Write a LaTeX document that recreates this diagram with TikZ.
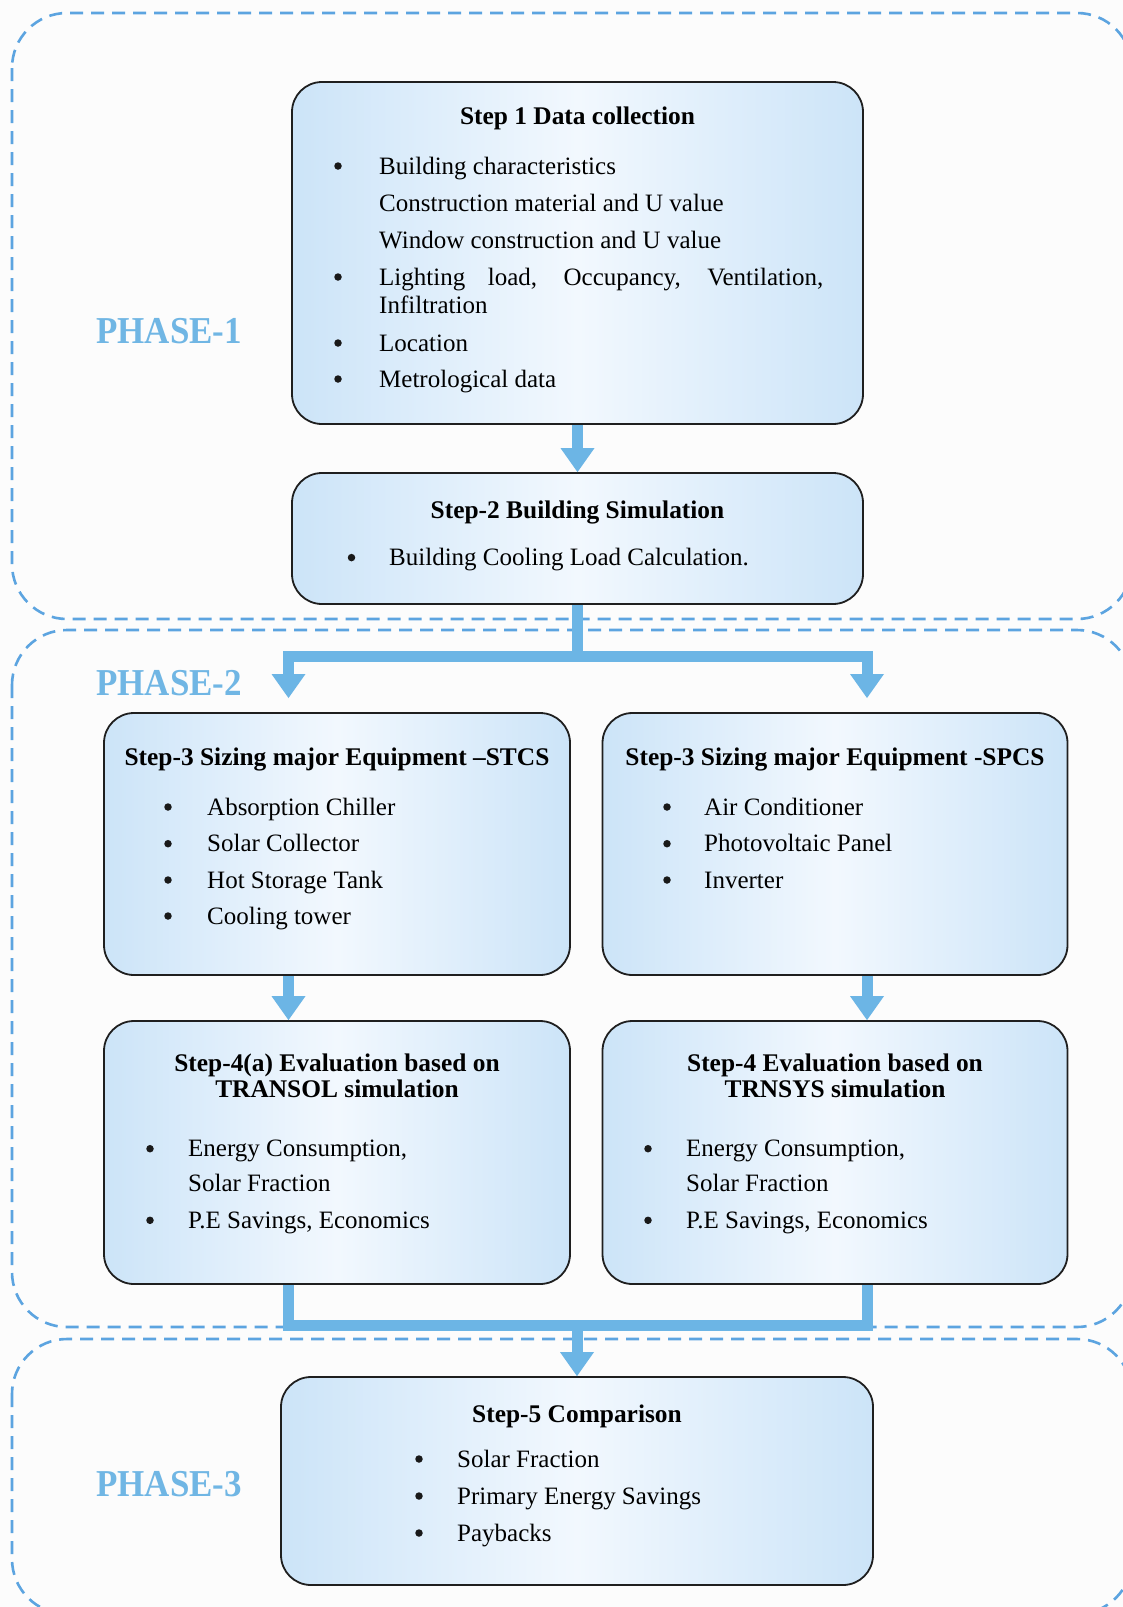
\documentclass[tikz,border=0pt]{standalone}
\usepackage{fontspec}
\setmainfont{Liberation Serif}
\usetikzlibrary{arrows.meta,calc}
\definecolor{arrowblue}{RGB}{108,181,229}
\definecolor{dashblue}{RGB}{92,164,224}
\definecolor{phaseblue}{RGB}{112,182,228}
\definecolor{boxout}{RGB}{204,228,248}
\definecolor{boxin}{RGB}{242,248,254}
\definecolor{bgcol}{RGB}{252,252,252}
\newcommand\bodyfnt{\fontsize{25}{30}\selectfont}
\newcommand\ttlfnt{\fontsize{25.4}{26}\selectfont\bfseries}
\newcommand\phfnt{\fontsize{38}{40}\selectfont\bfseries}
\begin{document}
\begin{tikzpicture}[x=1pt,y=-1pt,
  stepbox/.style={draw=black!88,line width=1.8pt,rounded corners=30pt,inner sep=0pt,left color=boxout,right color=boxout,middle color=boxin},
  phasebox/.style={draw=dashblue,line width=2.6pt,dash pattern=on 13pt off 8pt,rounded corners=55pt},
  phaselbl/.style={anchor=base west,inner sep=0pt,text=phaseblue,font=\phfnt},
  ttl/.style={anchor=base,inner sep=0pt,font=\ttlfnt},
  txt/.style={anchor=base west,inner sep=0pt,font=\bodyfnt},
  dot/.style={circle,fill=black!90,inner sep=0pt,minimum size=7.5pt,yshift=8pt},
  shaft/.style={draw=arrowblue,line width=11pt},
  arr/.style={draw=arrowblue,line width=11pt,-{Triangle[width=34pt,length=24pt,line width=0pt]}}
]
\useasboundingbox (0,0) rectangle (1123,1607);
\clip (0,0) rectangle (1123,1607);
\fill[bgcol] (0,0) rectangle (1123,1607);

% phase regions
\draw[phasebox] (12,13) rectangle (1132,619);
\draw[phasebox] (12,630) rectangle (1132,1327);
\draw[phasebox] (12,1339) rectangle (1132,1614);

\node[phaselbl] (ph1) at (96,343) {\scalebox{0.92}[1]{PHASE-1}};
\node[phaselbl] (ph2) at (96,695) {\scalebox{0.92}[1]{PHASE-2}};
\node[phaselbl] (ph3) at (96,1496) {\scalebox{0.92}[1]{PHASE-3}};

% boxes
\node[stepbox,minimum width=571pt,minimum height=342pt] (b1) at (577.5,253) {};
\node[stepbox,minimum width=571pt,minimum height=131pt] (b2) at (577.5,538.5) {};
\node[stepbox,minimum width=466pt,minimum height=262pt] (b3l) at (337,844) {};
\node[stepbox,minimum width=465pt,minimum height=262pt] (b3r) at (835,844) {};
\node[stepbox,minimum width=466pt,minimum height=263pt] (b4l) at (337,1152.5) {};
\node[stepbox,minimum width=465pt,minimum height=263pt] (b4r) at (835,1152.5) {};
\node[stepbox,minimum width=592pt,minimum height=208pt] (b5) at (577,1481) {};

% box 1 text
\node[ttl] (b1t) at (577.5,124.3) {Step 1 Data collection};
\node[dot] (b1d1) at (338,174) {};
\node[txt] (b1i1) at (379,174) {Building characteristics};
\node[txt] (b1i2) at (379,211) {Construction material and U value};
\node[txt] (b1i3) at (379,248) {Window construction and U value};
\node[dot] (b1d2) at (338,285) {};
\node[txt] (b1i4) at (379,285) {\makebox[444pt][s]{Lighting load, Occupancy, Ventilation,}};
\node[txt] (b1i5) at (379,313) {Infiltration};
\node[dot] (b1d3) at (338,351) {};
\node[txt] (b1i6) at (379,351) {Location};
\node[dot] (b1d4) at (338,387) {};
\node[txt] (b1i7) at (379,387) {Metrological data};

% box 2 text
\node[ttl] (b2t) at (577.5,518.5) {Step-2 Building Simulation};
\node[dot] (b2d1) at (351.5,565.6) {};
\node[txt] (b2i1) at (389,565.6) {Building Cooling Load Calculation.};

% box 3 left
\node[ttl] (b3lt) at (337,765) {Step-3 Sizing major Equipment –STCS};
\node[dot] (b3ld1) at (168,815) {};
\node[txt] (b3li1) at (207,815) {Absorption Chiller};
\node[dot] (b3ld2) at (168,851.7) {};
\node[txt] (b3li2) at (207,851.7) {Solar Collector};
\node[dot] (b3ld3) at (168,888) {};
\node[txt] (b3li3) at (207,888) {Hot Storage Tank};
\node[dot] (b3ld4) at (168,924) {};
\node[txt] (b3li4) at (207,924) {Cooling tower};

% box 3 right
\node[ttl] (b3rt) at (835,765) {Step-3 Sizing major Equipment -SPCS};
\node[dot] (b3rd1) at (667,815) {};
\node[txt] (b3ri1) at (704,815) {Air Conditioner};
\node[dot] (b3rd2) at (667,851.7) {};
\node[txt] (b3ri2) at (704,851.7) {Photovoltaic Panel};
\node[dot] (b3rd3) at (667,888) {};
\node[txt] (b3ri3) at (704,888) {Inverter};

% box 4 left
\node[ttl] (b4lt1) at (337,1071.7) {Step-4(a) Evaluation based on};
\node[ttl] (b4lt2) at (337,1097) {TRANSOL simulation};
\node[dot] (b4ld1) at (150,1156.7) {};
\node[txt] (b4li1) at (188,1156.7) {Energy Consumption,};
\node[txt] (b4li2) at (188,1191.7) {Solar Fraction};
\node[dot] (b4ld2) at (150,1228.3) {};
\node[txt] (b4li3) at (188,1228.3) {P.E Savings, Economics};

% box 4 right
\node[ttl] (b4rt1) at (835,1071.7) {Step-4 Evaluation based on};
\node[ttl] (b4rt2) at (835,1097) {TRNSYS simulation};
\node[dot] (b4rd1) at (648,1156.7) {};
\node[txt] (b4ri1) at (686,1156.7) {Energy Consumption,};
\node[txt] (b4ri2) at (686,1191.7) {Solar Fraction};
\node[dot] (b4rd2) at (648,1228.3) {};
\node[txt] (b4ri3) at (686,1228.3) {P.E Savings, Economics};

% box 5
\node[ttl] (b5t) at (577,1422) {Step-5 Comparison};
\node[dot] (b5d1) at (419,1467) {};
\node[txt] (b5i1) at (457,1467) {Solar Fraction};
\node[dot] (b5d2) at (419,1504) {};
\node[txt] (b5i2) at (457,1504) {Primary Energy Savings};
\node[dot] (b5d3) at (419,1541) {};
\node[txt] (b5i3) at (457,1541) {Paybacks};

% connector coordinates
\coordinate (j1) at (577.5,656);
\coordinate (t3l) at (288.5,698);
\coordinate (t3r) at (867,698);
\coordinate (j2) at (577,1325.5);

% connectors
\draw[arr] (b1.south) -- (b2.north);
\draw[shaft] (b2.south) -- (j1);
\draw[arr] (j1) -| (t3l);
\draw[arr] (j1) -| (t3r);
\draw[arr] (b3l.south -| t3l) -- (b4l.north -| t3l);
\draw[arr] (b3r.south -| t3r) -- (b4r.north -| t3r);
\draw[shaft] (b4l.south -| t3l) |- (j2) -| (b4r.south -| t3r);
\draw[arr] (j2) -- (b5.north);
\end{tikzpicture}
\end{document}
